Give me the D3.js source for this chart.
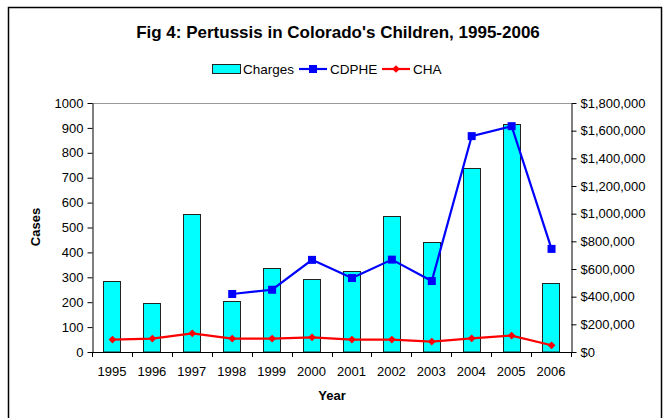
<!DOCTYPE html>
<html>
<head>
<meta charset="utf-8">
<script src="https://cdn.jsdelivr.net/npm/d3@7"></script>
<style>
  body { margin: 0; background: #fff; }
  svg { font-family: Arial, "Liberation Sans", sans-serif; }
</style>
</head>
<body>
<div id="chart"></div>
<script>
// data
var years = ['1995','1996','1997','1998','1999','2000','2001','2002','2003','2004','2005','2006'];
var charges = [515000, 355000, 997000, 370000, 610000, 525000, 586000, 983000, 794000, 1331000, 1650000, 501000];
var cdphe = [null, null, null, 233, 250, 370, 297, 371, 285, 867, 907, 414];
var cha = [50, 54, 75, 54, 54, 59, 50, 50, 42, 55, 66, 27];
var casesTicks = [0,100,200,300,400,500,600,700,800,900,1000];
var dollarTicks = [0,200000,400000,600000,800000,1000000,1200000,1400000,1600000,1800000];

var width = 667, height = 418;
var pLeft = 92, pRight = 571, pTop = 103, pBottom = 352;

var svg = d3.select('#chart').append('svg')
  .attr('width', width).attr('height', height);

// outer frame
svg.append('rect')
  .attr('x', 8.5).attr('y', 7.5).attr('width', 653).attr('height', 420)
  .attr('fill', 'none').attr('stroke', '#000').attr('stroke-width', 1.5);

var x = d3.scaleBand().domain(years).range([pLeft, pRight]).paddingInner(0.57).paddingOuter(0.285);
var xb = d3.scaleBand().domain(years).range([pLeft, pRight]); // for ticks
var yL = d3.scaleLinear().domain([0, 1000]).range([pBottom, pTop]);
var yR = d3.scaleLinear().domain([0, 1800000]).range([pBottom, pTop]);

// top gridline
svg.append('line')
  .attr('x1', pLeft).attr('x2', pRight).attr('y1', yL(1000) + 0.5).attr('y2', yL(1000) + 0.5)
  .attr('stroke', '#999');

// bars
svg.selectAll('.bar').data(charges).enter().append('rect')
  .attr('class', 'bar')
  .attr('x', function(d, i) { return Math.round(x(years[i])) + 0.5; })
  .attr('y', function(d) { return Math.round(yR(d)) + 0.5; })
  .attr('width', Math.round(x.bandwidth()))
  .attr('height', function(d) { return pBottom - Math.round(yR(d)) - 0.5; })
  .attr('fill', '#00ffff').attr('stroke', '#222').attr('stroke-width', 1);

// axes
var fmt = d3.format('$,');
var axL = svg.append('g').attr('transform', 'translate(' + (pLeft + 0.5) + ',0)')
  .call(d3.axisLeft(yL).tickValues(casesTicks).tickFormat(d3.format('d')).tickSize(5).tickSizeOuter(0).tickPadding(4));
var axR = svg.append('g').attr('transform', 'translate(' + (pRight + 0.5) + ',0)')
  .call(d3.axisRight(yR).tickValues(dollarTicks).tickFormat(function(d){ return fmt(d); }).tickSize(5).tickSizeOuter(0).tickPadding(4));
var axB = svg.append('g').attr('transform', 'translate(0,' + (pBottom + 0.5) + ')')
  .call(d3.axisBottom(xb).tickSize(0).tickPadding(14));
// year boundary ticks
svg.selectAll('.yt').data(d3.range(years.length + 1)).enter().append('line')
  .attr('x1', function(i) { return Math.round(pLeft + i * xb.step()) + 0.5; })
  .attr('x2', function(i) { return Math.round(pLeft + i * xb.step()) + 0.5; })
  .attr('y1', pBottom).attr('y2', pBottom + 5)
  .attr('stroke', '#000');

[axL, axR, axB].forEach(function(a) {
  a.selectAll('text').attr('font-size', 13).attr('font-family', 'Arial, "Liberation Sans", sans-serif').attr('fill', '#000');
  a.selectAll('line, path').attr('stroke', '#000');
});
axB.select('.domain').attr('d', 'M' + pLeft + ',0H' + pRight);

// lines
var cx = function(i) { return x(years[i]) + x.bandwidth() / 2 + 0.5; };
var line = d3.line().defined(function(d) { return d != null; })
  .x(function(d, i) { return cx(i); }).y(function(d) { return yL(d); });
svg.append('path').datum(cdphe).attr('d', line)
  .attr('fill', 'none').attr('stroke', '#0000ff').attr('stroke-width', 2.2);
svg.selectAll('.sq').data(cdphe.map(function(v, i) { return {v: v, i: i}; }).filter(function(d) { return d.v != null; }))
  .enter().append('rect')
  .attr('x', function(d) { return cx(d.i) - 4; })
  .attr('y', function(d) { return yL(d.v) - 4; })
  .attr('width', 8).attr('height', 8).attr('fill', '#0000ff');

svg.append('path').datum(cha).attr('d', line)
  .attr('fill', 'none').attr('stroke', '#ff0000').attr('stroke-width', 2.2);
// diamond = square turned 45 degrees
var diamond = d3.symbol().type(d3.symbolSquare).size(30);
svg.selectAll('.dm').data(cha).enter().append('path')
  .attr('d', diamond)
  .attr('transform', function(d, i) { return 'translate(' + cx(i) + ',' + yL(d) + ') rotate(45)'; })
  .attr('fill', '#ff0000');

// title
svg.append('text').attr('x', 338).attr('y', 38).attr('text-anchor', 'middle')
  .attr('font-size', 17).attr('font-weight', 'bold')
  .text("Fig 4: Pertussis in Colorado's Children, 1995-2006");

// axis titles
svg.append('text').attr('transform', 'translate(40,227) rotate(-90)')
  .attr('text-anchor', 'middle').attr('font-size', 13).attr('font-weight', 'bold').text('Cases');
svg.append('text').attr('x', 332).attr('y', 400).attr('text-anchor', 'middle')
  .attr('font-size', 13).attr('font-weight', 'bold').text('Year');

// legend
var lg = svg.append('g').attr('font-size', 13.5);
lg.append('rect').attr('x', 212.5).attr('y', 64.5).attr('width', 28).attr('height', 9)
  .attr('fill', '#00ffff').attr('stroke', '#222');
lg.append('text').attr('x', 243).attr('y', 74).text('Charges');
lg.append('line').attr('x1', 299).attr('x2', 327).attr('y1', 69).attr('y2', 69)
  .attr('stroke', '#0000ff').attr('stroke-width', 2.2);
lg.append('rect').attr('x', 309).attr('y', 65).attr('width', 8).attr('height', 8).attr('fill', '#0000ff');
lg.append('text').attr('x', 330).attr('y', 74).text('CDPHE');
lg.append('line').attr('x1', 382).attr('x2', 410).attr('y1', 69).attr('y2', 69)
  .attr('stroke', '#ff0000').attr('stroke-width', 2.2);
lg.append('path').attr('d', diamond).attr('transform', 'translate(396,69) rotate(45)').attr('fill', '#ff0000');
lg.append('text').attr('x', 413).attr('y', 74).text('CHA');
</script>
</body>
</html>
